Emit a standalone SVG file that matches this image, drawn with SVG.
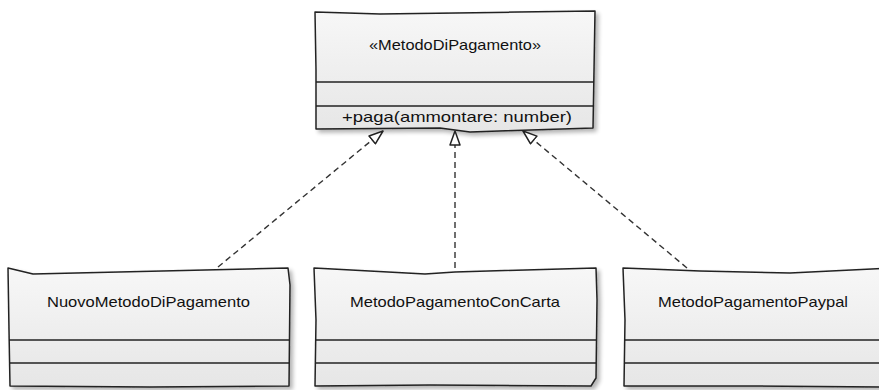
<svg xmlns="http://www.w3.org/2000/svg" width="879" height="390" viewBox="0 0 879 390">
  <defs>
    <linearGradient id="boxFill" x1="0" y1="0" x2="0" y2="1">
      <stop offset="0" stop-color="#f7f7f7"/>
      <stop offset="1" stop-color="#e6e6e6"/>
    </linearGradient>
    <filter id="shadow" x="-5%" y="-5%" width="115%" height="125%">
      <feGaussianBlur in="SourceAlpha" stdDeviation="2"/>
      <feOffset dx="3" dy="3" result="b"/>
      <feComponentTransfer><feFuncA type="linear" slope="0.3"/></feComponentTransfer>
      <feMerge><feMergeNode/><feMergeNode in="SourceGraphic"/></feMerge>
    </filter>
    <marker id="realize" viewBox="0 0 16 12" refX="15" refY="6" markerWidth="16" markerHeight="12" markerUnits="userSpaceOnUse" orient="auto">
      <path d="M1,1 L15,6 L1,11 Z" fill="#ffffff" stroke="#222" stroke-width="1.5" stroke-linejoin="round"/>
    </marker>
  </defs>
  <style>
    .box { fill: url(#boxFill); stroke: #222; stroke-width: 1.5; stroke-linejoin: round; filter: url(#shadow); }
    .sep { fill: none; stroke: #222; stroke-width: 1.3; }
    .lbl { font-family: "Liberation Sans", Arial, sans-serif; font-size: 15px; fill: #111; }
    .dash { fill: none; stroke: #333; stroke-width: 1.4; stroke-dasharray: 6 4; marker-end: url(#realize); }
  </style>

  <!-- interface -->
  <g id="MetodoDiPagamento">
    <path class="box" d="M315,12 L380,14 L595,11 L594,70 L593,128 L470,132 L440,128 L316,129 L316,70 Z"/>
    <path class="sep" d="M316,82 L594,82"/>
    <path class="sep" d="M316,106 L594,106"/>
    <text class="lbl" x="455" y="50" text-anchor="middle" textLength="172" lengthAdjust="spacingAndGlyphs">«MetodoDiPagamento»</text>
    <text class="lbl" x="342" y="122" textLength="230" lengthAdjust="spacingAndGlyphs">+paga(ammontare: number)</text>
  </g>

  <!-- implementations -->
  <g id="NuovoMetodoDiPagamento">
    <path class="box" d="M8,268 L33,274 L288,268 L290,285 L289,386 L150,387 L10,386 L9,330 Z"/>
    <path class="sep" d="M9,340 L289,340"/>
    <path class="sep" d="M10,363 L289,363"/>
    <text class="lbl" x="47" y="307" textLength="203" lengthAdjust="spacingAndGlyphs">NuovoMetodoDiPagamento</text>
  </g>

  <g id="MetodoPagamentoConCarta">
    <path class="box" d="M314,268 L425,274 L455,272 L596,268 L597,300 L596,378 L591,386 L430,385 L315,386 L316,320 Z"/>
    <path class="sep" d="M316,340 L596,340"/>
    <path class="sep" d="M316,363 L596,363"/>
    <text class="lbl" x="350" y="307" textLength="210" lengthAdjust="spacingAndGlyphs">MetodoPagamentoConCarta</text>
  </g>

  <g id="MetodoPagamentoPaypal">
    <path class="box" d="M623,268 L700,271 L790,273 L890,268 L890,387 L750,386 L624,386 L625,320 Z"/>
    <path class="sep" d="M624,340 L890,340"/>
    <path class="sep" d="M624,363 L890,363"/>
    <text class="lbl" x="658" y="307" textLength="190" lengthAdjust="spacingAndGlyphs">MetodoPagamentoPaypal</text>
  </g>

  <!-- realization arrows -->
  <g id="connectors">
    <path class="dash" d="M218,267 L383,131"/>
    <path class="dash" d="M455,268 L455,131"/>
    <path class="dash" d="M687,268 L523,131"/>
  </g>
</svg>
